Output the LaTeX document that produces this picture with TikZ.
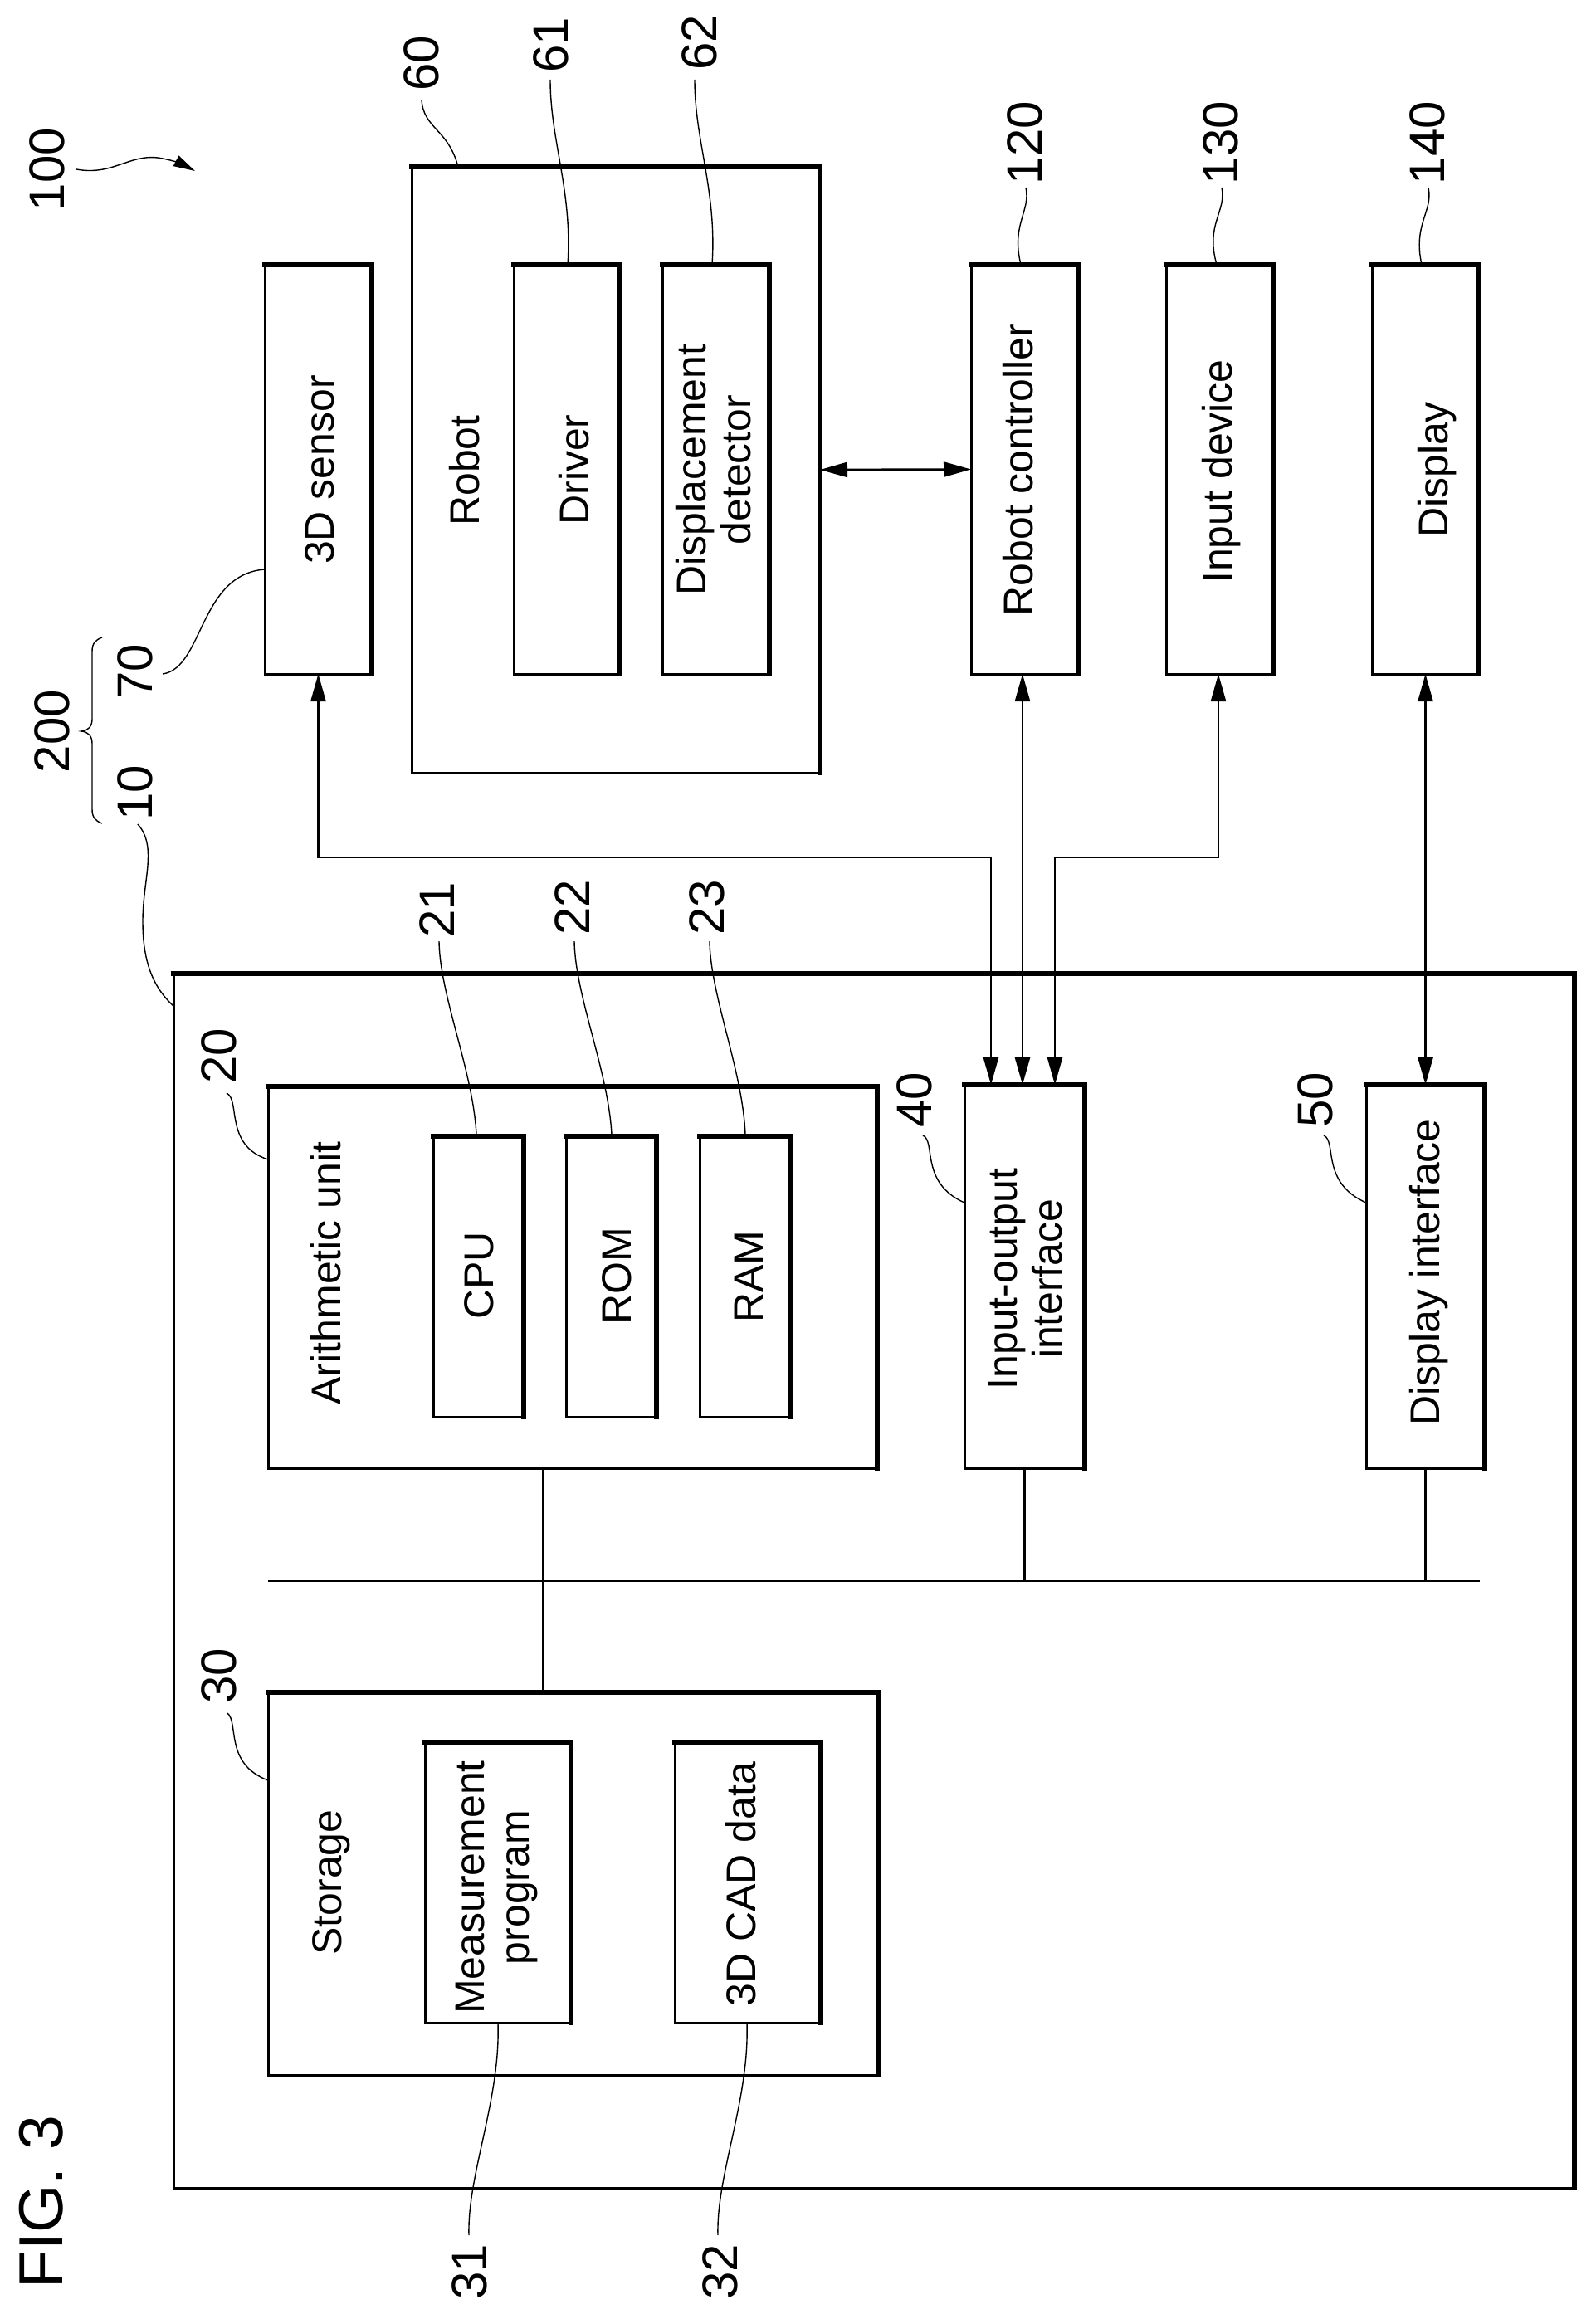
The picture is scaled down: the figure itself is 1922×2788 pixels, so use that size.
\documentclass[tikz,border=0pt]{standalone}
\usepackage{fontspec}
\setmainfont{Liberation Sans}
\usetikzlibrary{arrows.meta,calc}
\newcommand{\pbox}[5]{%
  \pgfmathsetmacro{\pw}{#4-#2}\pgfmathsetmacro{\ph}{#5-#3}%
  \pgfmathsetmacro{\px}{(#4+#2)/2}\pgfmathsetmacro{\py}{(#5+#3)/2}%
  \node[boxed,minimum width=\pw pt,minimum height=\ph pt] (#1) at (\px,\py) {};
  \draw[boxedge] (#1.north west) -- (#1.north east) -- (#1.south east);
}
\tikzset{
  boxed/.style={draw=black,line width=3pt,inner sep=0pt,outer sep=0pt},
  boxedge/.style={draw=black,line width=5.5pt,line cap=rect},
  txt/.style={rotate=90,inner sep=0pt,font=\fontsize{50}{53}\selectfont,text height=36pt,text depth=0pt},
  txttwo/.style={rotate=90,inner sep=0pt,font=\fontsize{50}{54}\selectfont,align=center},
  num/.style={rotate=90,inner sep=0pt,font=\fontsize{60}{62}\selectfont,text height=43pt,text depth=0pt},
  leader/.style={draw=black,line width=1.4pt},
  wire/.style={draw=black,line width=2.6pt},
  arr/.style={wire,-{Triangle[length=33pt,width=18pt]}},
  darr/.style={wire,{Triangle[length=33pt,width=18pt]}-{Triangle[length=33pt,width=18pt]}},
}
\begin{document}
\begin{tikzpicture}[x=1pt,y=-1pt]
\useasboundingbox (0,0) rectangle (1922,2788);
\fill[white] (0,0) rectangle (1922,2788);
% boxes
\pbox{outer}{209}{1173}{1897}{2636}
\pbox{sensor}{319}{319}{448}{812}
\pbox{robot}{496}{201}{988}{931}
\pbox{driver}{619}{319}{747}{812}
\pbox{disp}{798}{319}{927}{812}
\pbox{ctrl}{1170}{319}{1299}{812}
\pbox{input}{1405}{319}{1534}{812}
\pbox{dspl}{1653}{319}{1782}{812}
\pbox{arith}{323}{1309}{1057}{1769}
\pbox{cpu}{522}{1369}{631}{1707}
\pbox{rom}{682}{1369}{791}{1707}
\pbox{ram}{843}{1369}{953}{1707}
\pbox{io}{1162}{1307}{1307}{1769}
\pbox{dif}{1646}{1307}{1789}{1769}
\pbox{stor}{323}{2039}{1058}{2500}
\pbox{meas}{512}{2100}{688}{2437}
\pbox{cad}{813}{2100}{989}{2437}
% box texts
\node[txt] (tsensor) at (384,566) {3D sensor};
\node[txt] (trobot) at (559,567) {Robot};
\node[txt] (tdriver) at (691,566) {Driver};
\node[txttwo] (tdisp) at (860,566) {Displacement\\detector};
\node[txt] (tctrl) at (1226,566) {Robot controller};
\node[txt] (tinput) at (1466,568) {Input device};
\node[txt] (tdspl) at (1726,566) {Display};
\node[txt] (tarith) at (392,1534) {Arithmetic unit};
\node[txt] (tcpu) at (576,1537) {CPU};
\node[txt] (trom) at (742,1537) {ROM};
\node[txt] (tram) at (901,1538) {RAM};
\node[txttwo] (tio) at (1236,1541) {Input-output\\interface};
\node[txt] (tdif) at (1716,1533) {Display interface};
\node[txt] (tstor) at (393,2268) {Storage};
\node[txttwo] (tmeas) at (598,2274) {Measurement\\program};
\node[txt] (tcad) at (892,2270) {3D CAD data};
% reference numbers
\node[rotate=90,inner sep=0pt,font=\fontsize{75}{77}\selectfont,text height=54pt,text depth=0pt] (fig) at (48,2653) {FIG. 3};
\node[num] (n100) at (56,204) {100};
\node[num] (n200) at (62,881) {200};
\node[num] (n70) at (162,809) {70};
\node[num] (n10) at (162,955) {10};
\node[num] (n60) at (507,76) {60};
\node[num] (n61) at (663,54) {61};
\node[num] (n62) at (842,51) {62};
\node[num] (n120) at (1234,172) {120};
\node[num] (n130) at (1470,172) {130};
\node[num] (n140) at (1719,172) {140};
\node[num] (n21) at (526,1096) {21};
\node[num] (n22) at (689,1093) {22};
\node[num] (n23) at (851,1093) {23};
\node[num] (n20) at (263,1272) {20};
\node[num] (n40) at (1101,1325) {40};
\node[num] (n50) at (1584,1325) {50};
\node[num] (n30) at (263,2019) {30};
\node[num] (n31) at (565,2737) {31};
\node[num] (n32) at (867,2737) {32};
% brace
\draw[leader] (123,768) .. controls (115,771) and (111,775) .. (111,785) -- (111,866) .. controls (111,875) and (107,880) .. (98,881) .. controls (107,882) and (111,887) .. (111,896) -- (111,975) .. controls (111,985) and (115,989) .. (123,992);
% leaders
\coordinate (s100) at (92,204);
\coordinate (e100) at (235,206);
\draw[leader] (s100) .. controls (135,212) and (155,186) .. (190,190);
\draw[leader,-{Triangle[length=26pt,width=14pt]}] (190,190) .. controls (205,192) and (220,198) .. (e100);
\coordinate (s70) at (196,812);
\coordinate (e70) at (319,686);
\draw[leader] (s70) .. controls (245,805) and (240,692) .. (e70);
\coordinate (s10) at (166,993);
\coordinate (e10) at (209,1212);
\draw[leader] (s10) .. controls (190,1020) and (172,1060) .. (172,1110) .. controls (172,1160) and (185,1190) .. (e10);
\coordinate (s60) at (508,120);
\coordinate (e60) at (552,201);
\draw[leader] (s60) .. controls (510,155) and (540,155) .. (e60);
\coordinate (s61) at (663,96);
\coordinate (e61) at (684,319);
\draw[leader] (s61) .. controls (663,170) and (690,230) .. (e61);
\coordinate (s62) at (837,96);
\coordinate (e62) at (858,319);
\draw[leader] (s62) .. controls (837,170) and (864,230) .. (e62);
\coordinate (s120) at (1236,226);
\coordinate (e120) at (1230,319);
\draw[leader] (s120) .. controls (1242,255) and (1218,270) .. (e120);
\coordinate (s130) at (1472,226);
\coordinate (e130) at (1466,319);
\draw[leader] (s130) .. controls (1478,255) and (1452,270) .. (e130);
\coordinate (s140) at (1721,226);
\coordinate (e140) at (1713,319);
\draw[leader] (s140) .. controls (1727,255) and (1702,270) .. (e140);
\coordinate (s21) at (529,1134);
\coordinate (e21) at (574,1367);
\draw[leader] (s21) .. controls (530,1200) and (570,1290) .. (e21);
\coordinate (s22) at (692,1134);
\coordinate (e22) at (737,1367);
\draw[leader] (s22) .. controls (693,1200) and (733,1290) .. (e22);
\coordinate (s23) at (855,1134);
\coordinate (e23) at (898,1367);
\draw[leader] (s23) .. controls (856,1200) and (895,1290) .. (e23);
\coordinate (s20) at (273,1317);
\coordinate (e20) at (323,1397);
\draw[leader] (s20) .. controls (290,1325) and (270,1380) .. (e20);
\coordinate (s40) at (1112,1368);
\coordinate (e40) at (1162,1449);
\draw[leader] (s40) .. controls (1128,1375) and (1108,1425) .. (e40);
\coordinate (s50) at (1595,1368);
\coordinate (e50) at (1646,1449);
\draw[leader] (s50) .. controls (1611,1375) and (1591,1425) .. (e50);
\coordinate (s30) at (274,2064);
\coordinate (e30) at (323,2145);
\draw[leader] (s30) .. controls (288,2075) and (270,2125) .. (e30);
\coordinate (s31) at (565,2693);
\coordinate (e31) at (600,2438);
\draw[leader] (s31) .. controls (563,2620) and (603,2530) .. (e31);
\coordinate (s32) at (865,2693);
\coordinate (e32) at (900,2438);
\draw[leader] (s32) .. controls (863,2620) and (903,2530) .. (e32);
% wires
\coordinate (ioA) at ($(io.north)+(-40.5,0)$);
\coordinate (ioB) at ($(io.north)+(-2.5,0)$);
\coordinate (ioC) at ($(io.north)+(36.5,0)$);
\coordinate (ctrlB) at ($(ctrl.south)+(-2.5,0)$);
\coordinate (inputS) at ($(input.south)+(-1.5,0)$);
\coordinate (yrun) at (0,1033);
\coordinate (busL) at (323,1905);
\coordinate (busR) at (1783,1905);
\draw[darr] (sensor.south) |- (yrun -| ioA) -- (ioA);
\draw[darr] (inputS) |- (yrun -| ioC) -- (ioC);
\draw[darr] (ctrlB) -- (ioB);
\draw[darr] (dspl.south) -- (dif.north);
\draw[darr] (robot.east) -- (ctrl.west);
\draw[wire] (busL) -- (busR);
\draw[wire] ($(arith.south)+(-36,0)$) -- ($(stor.north)+(-36.5,0)$);
\draw[wire] (io.south) -- (io.south |- busL);
\draw[wire] (dif.south) -- (dif.south |- busL);
\end{tikzpicture}
\end{document}
